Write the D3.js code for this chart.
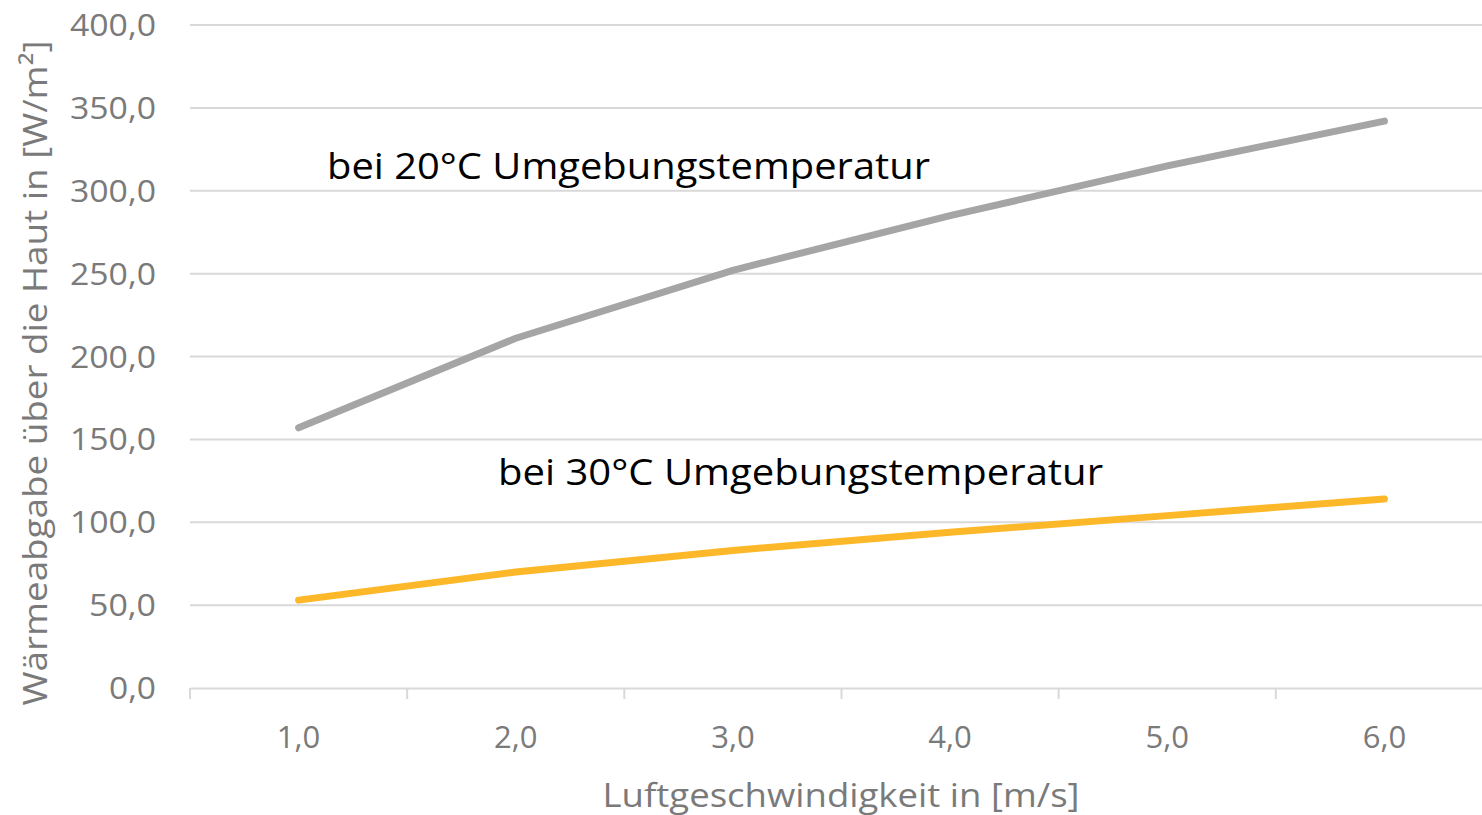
<!DOCTYPE html>
<html><head><meta charset="utf-8">
<script src="https://cdn.jsdelivr.net/npm/d3@7"></script>
<style>body{margin:0;background:#fff;overflow:hidden}svg{display:block}text{font-family:"Open Sans","Noto Sans",sans-serif}</style>
</head><body><svg id="c" width="1482" height="815"></svg>
<script>
const categories = ["1,0","2,0","3,0","4,0","5,0","6,0"];
const series20 = [157, 211, 252, 285, 315, 342];
const series30 = [53, 70, 83, 94, 104, 114];
const yTicks = [0, 50, 100, 150, 200, 250, 300, 350, 400];
const seriesNames = ["bei 20°C Umgebungstemperatur", "bei 30°C Umgebungstemperatur"];
const xTitle = "Luftgeschwindigkeit in [m/s]";
const yTitle = "Wärmeabgabe über die Haut in [W/m²]";

const svg = d3.select("#c");
const x = d3.scaleBand().domain(categories).range([190, 1493]);
const y = d3.scaleLinear().domain([0, 400]).range([688, 25]);
const fmt = v => d3.format(".1f")(v).replace(".", ",");

// gridlines
svg.append("g").selectAll("line").data(yTicks.filter(d => d > 0)).join("line")
  .attr("x1", 190).attr("x2", 1493).attr("y1", d => y(d)).attr("y2", d => y(d))
  .attr("stroke", "#d9d9d9").attr("stroke-width", 2);

// y labels
const lenFor = s => s.length === 3 ? 47 : s.length === 4 ? 67 : 86;
svg.append("g").selectAll("text").data(yTicks).join("text")
  .attr("x", 156).attr("y", d => y(d) + 11).attr("text-anchor", "end")
  .attr("font-size", 31).attr("fill", "#7a7a7a").attr("textLength", d => lenFor(fmt(d)))
  .attr("lengthAdjust", "spacingAndGlyphs").text(fmt);

// x axis
const xa = svg.append("g").attr("transform", "translate(0,688)")
  .call(d3.axisBottom(x).tickSize(0).tickFormat(""));
xa.select(".domain").attr("stroke", "#d9d9d9").attr("stroke-width", 2);
const bounds = categories.map(c => x(c)).concat([1493]);
svg.append("g").selectAll("line").data(bounds).join("line")
  .attr("x1", d => d).attr("x2", d => d).attr("y1", 688).attr("y2", 699)
  .attr("stroke", "#d9d9d9").attr("stroke-width", 2);
svg.append("g").selectAll("text").data(categories).join("text")
  .attr("x", d => x(d) + x.bandwidth() / 2).attr("y", 748).attr("text-anchor", "middle")
  .attr("font-size", 31).attr("fill", "#7a7a7a").text(d => d);

// titles
svg.append("text").attr("x", 841).attr("y", 807).attr("text-anchor", "middle")
  .attr("font-size", 32).attr("fill", "#7a7a7a").attr("textLength", 477).attr("lengthAdjust", "spacingAndGlyphs").text(xTitle);
svg.append("text").attr("transform", "translate(47,373) rotate(-90)").attr("text-anchor", "middle")
  .attr("font-size", 33).attr("fill", "#7a7a7a").attr("textLength", 665).attr("lengthAdjust", "spacingAndGlyphs").text(yTitle);

// lines
const line = d3.line().x((d, i) => x(categories[i]) + x.bandwidth() / 2).y(d => y(d));
svg.append("path").datum(series20).attr("d", line).attr("fill", "none")
  .attr("stroke", "#a5a5a5").attr("stroke-width", 7).attr("stroke-linecap", "round").attr("stroke-linejoin", "round");
svg.append("path").datum(series30).attr("d", line).attr("fill", "none")
  .attr("stroke", "#fdb82a").attr("stroke-width", 7).attr("stroke-linecap", "round").attr("stroke-linejoin", "round");

// series labels
svg.append("text").attr("x", 327).attr("y", 179).attr("font-size", 37).attr("fill", "#000")
  .attr("textLength", 603).attr("lengthAdjust", "spacingAndGlyphs").text(seriesNames[0]);
svg.append("text").attr("x", 498).attr("y", 485).attr("font-size", 37).attr("fill", "#000")
  .attr("textLength", 605).attr("lengthAdjust", "spacingAndGlyphs").text(seriesNames[1]);
</script></body></html>
